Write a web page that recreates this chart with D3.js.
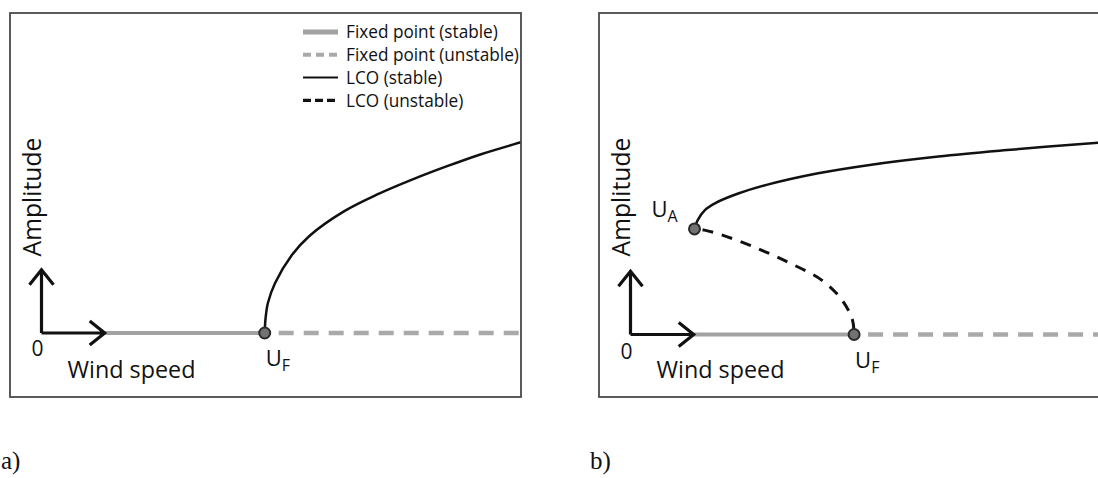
<!DOCTYPE html>
<html>
<head>
<meta charset="utf-8">
<script src="https://cdn.jsdelivr.net/npm/d3@7"></script>
<style>
  body { margin: 0; background: #fff; }
  svg { display: block; }
  text { font-family: "Open Sans", "Noto Sans", sans-serif; fill: #111; }
</style>
</head>
<body>
<svg id="chart" width="1098" height="478"></svg>
<script>
// ---- Data (wind speed / amplitude in arbitrary units) ----
const legendLabels = ["Fixed point (stable)", "Fixed point (unstable)", "LCO (stable)", "LCO (unstable)"];
const legendKinds = ["fixedStable", "fixedUnstable", "lcoStable", "lcoUnstable"];
const panelTags = ["a)", "b)"];
const axisTitles = ["Wind speed", "Amplitude"];
const originLabel = "0";
const speedDomain = [0, 12];
const amplitudeDomain = [0, 8];
const arrowLength = 1.58;

// Panel a: supercritical Hopf bifurcation
const flutterSpeedA = 5.58;
const lcoStableA = [
  [5.58, 0], [5.60, 0.35], [5.66, 0.75], [5.84, 1.25], [6.26, 1.95], [6.69, 2.42],
  [7.56, 3.04], [8.41, 3.47], [9.28, 3.84], [10.14, 4.17], [10.99, 4.47], [11.99, 4.77], [12.3, 4.86]
];

// Panel b: subcritical Hopf bifurcation
const flutterSpeedB = 5.59;
const foldPointB = [1.60, 2.64];
const lcoStableB = [
  [1.60, 2.64], [1.68, 2.86], [1.86, 3.11], [2.11, 3.28], [2.71, 3.53], [3.40, 3.74],
  [4.69, 4.03], [5.98, 4.24], [7.70, 4.45], [9.41, 4.61], [11.73, 4.80], [12.3, 4.84]
];
const lcoUnstableB = [
  [1.60, 2.64], [1.85, 2.61], [2.28, 2.49], [3.06, 2.20], [3.91, 1.82],
  [4.78, 1.36], [5.29, 0.86], [5.55, 0.36], [5.59, 0]
];

// ---- Layout ----
const svg = d3.select("#chart");
const panels = [
  { id: "a", frame: [10, 13, 521, 397], origin: [41.5, 333], tag: [1, 469], flutter: flutterSpeedA,
    stable: lcoStableA, unstable: null, fold: null, legend: true, zeroDy: 23 },
  { id: "b", frame: [599, 13, 1112, 397], origin: [630.5, 334.5], tag: [590, 469], flutter: flutterSpeedB,
    stable: lcoStableB, unstable: lcoUnstableB, fold: foldPointB, legend: false, zeroDy: 24 }
];

const styles = {
  fixedStable:   { stroke: "#a2a2a2", width: 4,   dash: null },
  fixedUnstable: { stroke: "#a9a9a9", width: 4.5, dash: "15,10" },
  lcoStable:     { stroke: "#111",    width: 2.5, dash: null },
  lcoUnstable:   { stroke: "#111",    width: 3,   dash: "11,9" }
};
const legendDash = { fixedUnstable: "8,5", lcoUnstable: "8,4" };

function fitWidth(sel, target) {
  const len = sel.node().getComputedTextLength();
  const fs = parseFloat(sel.attr("font-size"));
  sel.attr("font-size", fs * target / len);
}

function applyStyle(sel, kind, dashOverride) {
  const s = styles[kind];
  sel.attr("fill", "none")
    .attr("stroke", s.stroke)
    .attr("stroke-width", s.width)
    .attr("stroke-dasharray", dashOverride !== undefined ? dashOverride : s.dash);
}

panels.forEach((p, pi) => {
  const [fx0, fy0, fx1, fy1] = p.frame;
  const [ox, oy] = p.origin;
  const x = d3.scaleLinear().domain(speedDomain).range([ox, ox + 480]);
  const y = d3.scaleLinear().domain(amplitudeDomain).range([oy, oy - 320]);
  const g = svg.append("g").attr("class", "panel-" + p.id);

  g.append("clipPath").attr("id", "clip-" + p.id)
    .append("rect").attr("x", fx0).attr("y", fy0).attr("width", fx1 - fx0).attr("height", fy1 - fy0);
  const plot = g.append("g").attr("clip-path", `url(#clip-${p.id})`);

  const line = d3.line().x(d => x(d[0])).y(d => y(d[1]));
  const curve = d3.line().x(d => x(d[0])).y(d => y(d[1])).curve(d3.curveCatmullRom.alpha(0.5));

  // fixed point branch
  plot.append("path").datum([[arrowLength, 0], [p.flutter, 0]]).attr("d", line).call(applyStyle, "fixedStable");
  plot.append("path").datum([[p.flutter, 0], [speedDomain[1] + 0.5, 0]]).attr("d", line)
    .call(applyStyle, "fixedUnstable").attr("stroke-dashoffset", -14);

  // limit cycle branches
  if (p.unstable) plot.append("path").datum(p.unstable).attr("d", curve).call(applyStyle, "lcoUnstable")
    .attr("stroke-dashoffset", -8);
  plot.append("path").datum(p.stable).attr("d", curve).call(applyStyle, "lcoStable");

  // axis arrows
  const ah = 15, aw = 12;
  g.append("path")
    .attr("d", `M${x(0)},${y(0)}V${y(arrowLength)}M${x(0) - aw},${y(arrowLength) + ah}L${x(0)},${y(arrowLength)}L${x(0) + aw},${y(arrowLength) + ah}` +
               `M${x(0)},${y(0)}H${x(arrowLength)}M${x(arrowLength) - ah},${y(0) - aw}L${x(arrowLength)},${y(0)}L${x(arrowLength) - ah},${y(0) + aw}`)
    .attr("fill", "none").attr("stroke", "#111").attr("stroke-width", 3.2)
    .attr("stroke-linejoin", "miter").attr("stroke-linecap", "butt");

  // bifurcation points
  const pts = [[p.flutter, 0]];
  if (p.fold) pts.push(p.fold);
  g.selectAll("circle.pt").data(pts).join("circle").attr("class", "pt")
    .attr("cx", d => x(d[0])).attr("cy", d => y(d[1])).attr("r", 5.5)
    .attr("fill", "#727272").attr("stroke", "#2a2a2a").attr("stroke-width", 2);

  // frame
  g.append("rect").attr("x", fx0).attr("y", fy0).attr("width", fx1 - fx0).attr("height", fy1 - fy0)
    .attr("fill", "none").attr("stroke", "#4a4a4a").attr("stroke-width", 1.8);

  // labels
  g.append("text").attr("x", x(0) - 4).attr("y", y(0) + p.zeroDy).attr("text-anchor", "middle")
    .attr("font-size", 21).attr("fill", "#333").text(originLabel);

  g.append("text").attr("x", x(0) + 26).attr("y", 378).attr("font-size", 20).text(axisTitles[0])
    .call(fitWidth, 128);

  g.append("text").attr("transform", `translate(${x(0) - 0.5},${197}) rotate(-90)`).attr("text-anchor", "middle")
    .attr("font-size", 20).attr("fill", "#333").text(axisTitles[1]).call(fitWidth, 119);

  const uf = g.append("text").attr("x", x(p.flutter) + 1).attr("y", y(0) + 33).attr("font-size", 22).attr("fill", "#333");
  uf.append("tspan").text("U");
  uf.append("tspan").attr("dy", 5).attr("font-size", 16).text("F");

  if (p.fold) {
    const ua = g.append("text").attr("x", x(p.fold[0]) - 43).attr("y", y(p.fold[1]) - 12).attr("font-size", 22).attr("fill", "#333");
    ua.append("tspan").text("U");
    ua.append("tspan").attr("dy", 5).attr("font-size", 16).text("A");
  }

  // panel tag
  svg.append("text").attr("x", p.tag[0]).attr("y", p.tag[1]).attr("font-size", 25)
    .style("font-family", '"Liberation Serif", "Times New Roman", serif').text(panelTags[pi]);

  // legend
  if (p.legend) {
    const rowY = d => 32 + d * 22.8;
    const lg = g.append("g").attr("class", "legend");
    const rows = lg.selectAll("g").data(legendLabels).join("g");
    rows.append("line").attr("x1", 303).attr("x2", 338).attr("y1", (d, i) => rowY(i)).attr("y2", (d, i) => rowY(i))
      .each(function (d, i) {
        const k = legendKinds[i];
        d3.select(this).call(applyStyle, k, legendDash[k] || null);
      })
      .attr("stroke-width", (d, i) => [5, 4, 2, 3.2][i]);
    const texts = rows.append("text").attr("x", 346).attr("y", (d, i) => rowY(i)).attr("dy", "0.36em")
      .attr("font-size", 16).attr("fill", "#222").text(d => d);
    // size every entry like the longest one, spanning to the frame edge
    const longest = texts.filter((d, i) => i === 1);
    longest.call(fitWidth, 173);
    texts.attr("font-size", longest.attr("font-size"));
  }
});
</script>
</body>
</html>
